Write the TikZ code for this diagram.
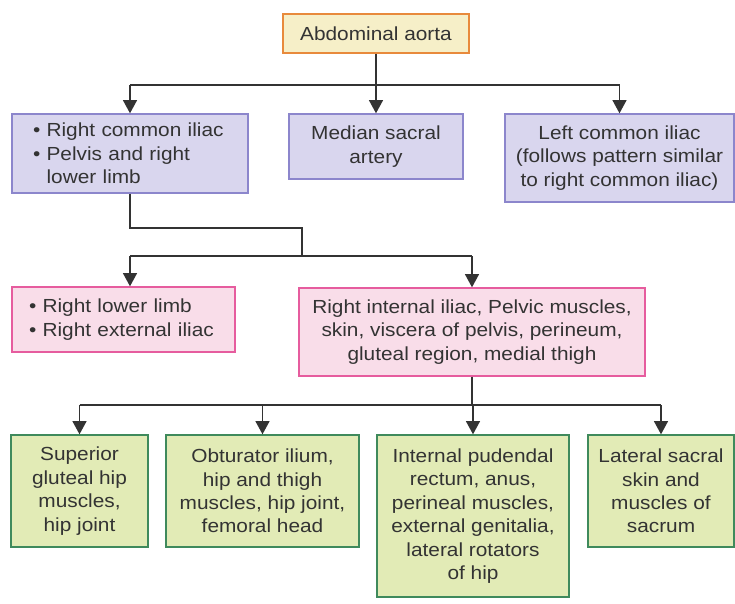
\documentclass[tikz,border=0pt]{standalone}
\usepackage{fontspec}
\setmainfont{Liberation Sans}[FakeStretch=1.1]
\usepackage{tikz}
\usetikzlibrary{positioning,calc,arrows.meta}
\tikzset{>={Triangle[width=10.5pt,length=10pt]}}
\newcommand*{\px}{0.75pt}
\newcommand*{\boxfont}{\fontsize{14.2}{17.6}\selectfont}
\definecolor{txt}{HTML}{333333}
\definecolor{wire}{HTML}{333333}
\definecolor{aortafill}{HTML}{F6EFC8}
\definecolor{aortaline}{HTML}{E88A3C}
\definecolor{lilacfill}{HTML}{D9D6EE}
\definecolor{lilacline}{HTML}{8C86CC}
\definecolor{pinkfill}{HTML}{F9DDE9}
\definecolor{pinkline}{HTML}{E65C9E}
\definecolor{greenfill}{HTML}{E2EBB6}
\definecolor{greenline}{HTML}{3F8A5C}

\begin{document}
\begin{tikzpicture}[x=0.75pt,y=-0.75pt,
  box/.style={draw,line width=1pt,inner sep=0pt,text=txt,font=\boxfont,align=center},
  wh/.style 2 args={minimum width={#1*\px},minimum height={#2*\px}},
  aortabox/.style={box,draw=aortaline,fill=aortafill},
  lilac/.style={box,draw=lilacline,fill=lilacfill},
  pink/.style={box,draw=pinkline,fill=pinkfill},
  green/.style={box,draw=greenline,fill=greenfill},
  wires/.style={draw=wire,line width=1.3pt}]
\useasboundingbox (0,0) rectangle (735,603);

% top
\node[aortabox,wh={186}{39}] (aorta) at (376,33.5) {Abdominal aorta};

% second row
\node[lilac,wh={236}{79},align=left,inner xsep={21*\px},text width={194*\px}] (rci) at (130,153.5)
  {\textbullet~Right common iliac\\\textbullet~Pelvis and right\\\phantom{\textbullet~}lower limb};
\node[lilac,wh={174}{65}] (msa) at (376,146.5) {Median sacral\\artery};
\node[lilac,wh={229}{88}] (lci) at (619.5,158)
  {Left common iliac\\(follows pattern similar\\to right common iliac)};

% third row
\node[pink,wh={223}{65},align=left,inner xsep={17*\px},text width={189*\px}] (rll) at (123.5,319.5)
  {\textbullet~Right lower limb\\\textbullet~Right external iliac};
\node[pink,wh={346}{88}] (rii) at (472,332)
  {Right internal iliac, Pelvic muscles,\\skin, viscera of pelvis, perineum,\\gluteal region, medial thigh};

% bottom row
\node[green,wh={137}{112}] (sg) at (79.5,491)
  {Superior\\gluteal hip\\muscles,\\hip joint};
\node[green,wh={193}{112}] (ob) at (262.5,491)
  {Obturator ilium,\\hip and thigh\\muscles, hip joint,\\femoral head};
\node[green,wh={192}{162}] (ip) at (473,516)
  {Internal pudendal\\rectum, anus,\\perineal muscles,\\external genitalia,\\lateral rotators\\of hip};
\node[green,wh={146}{112}] (ls) at (661,491)
  {Lateral sacral\\skin and\\muscles of\\sacrum};

% connectors
\coordinate (bus1) at (0,85);
\coordinate (bend) at (302,228);
\coordinate (bus2) at (302,256);
\coordinate (bus3) at (0,405);

\draw[wires] (aorta.south) -- (aorta.south |- bus1);
\draw[wires] (rci.north |- bus1) -- (lci.north |- bus1);
\foreach \n in {rci,msa,lci}
  \draw[wires,->] (\n.north |- bus1) -- (\n.north);

\draw[wires] (rci.south) |- (bend) -- (bus2);
\draw[wires] (rci.south |- bus2) -- (rii.north |- bus2);
\draw[wires,->] (rci.south |- bus2) -- (rci.south |- rll.north);
\draw[wires,->] (rii.north |- bus2) -- (rii.north);

\draw[wires] (rii.south) -- (rii.south |- bus3);
\draw[wires] (sg.north |- bus3) -- (ls.north |- bus3);
\foreach \n in {sg,ob,ip,ls}
  \draw[wires,->] (\n.north |- bus3) -- (\n.north);
\end{tikzpicture}
\end{document}
